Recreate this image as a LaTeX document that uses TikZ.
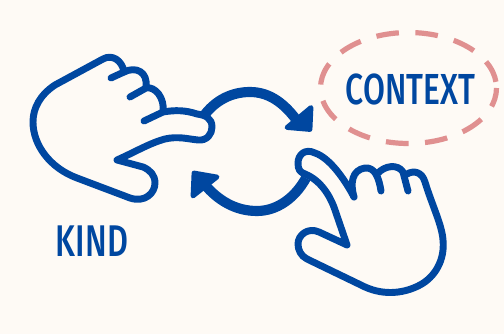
\documentclass[tikz,border=0pt]{standalone}
\usepackage{fontspec}
\setmainfont{Fira Sans}[UprightFont=* Medium]
\usetikzlibrary{arrows.meta}
\definecolor{bgc}{HTML}{FEFAF5}
\definecolor{handblue}{HTML}{0047A0}
\definecolor{rimpink}{HTML}{E09090}
\tikzset{
  handline/.style={draw=handblue,line width=5.2pt,line cap=round,line join=round},
  arcline/.style={draw=handblue,line width=7.6pt,line cap=butt},
  headfill/.style={fill=handblue,draw=handblue,line width=3.6pt,line join=round},
  rim/.style={draw=rimpink,line width=3.9pt,dash pattern=on 17pt off 12.4pt,dash phase=32pt},
  lab/.style={text=handblue,inner sep=0pt}
}
\begin{document}
\begin{tikzpicture}[x=.75pt,y=-.75pt]
\useasboundingbox[fill=bgc] (0,0) rectangle (504,334);
% dashed ellipse
\draw[rim] (408.5,88) ellipse [x radius=88,y radius=55.5];
\node[lab] (context) at (410.5,89) {\resizebox{97pt}{23pt}{CONTEXT}};
\node[lab] (kind) at (92,241) {\resizebox{54pt}{23pt}{KIND}};
% arrows
\draw[arcline] (203,117) .. controls (215,100) and (232,92) .. (250,92) .. controls (270,92) and (285,104) .. (298,122);
\path[headfill] (311,107.5) -- (310,129.5) -- (287,127.5) -- cycle;
\draw[arcline] (306,178) .. controls (295,198) and (277,211) .. (257,211) .. controls (235,211) and (218,200) .. (205,185);
\path[headfill] (194,173) -- (217,177) -- (193,196) -- cycle;
% left hand
\draw[handline] (124,72) .. controls (122,60) and (112,54) .. (103,59) -- (55,85) .. controls (40,95) and (33,108) .. (33,122) .. controls (33,145) and (50,168) .. (77,178) -- (130,198) .. controls (145,203) and (155,193) .. (155,183) .. controls (155,175) and (150,170) .. (143,167) -- (117,160) .. controls (135,152) and (150,143) .. (165,139) .. controls (178,136) and (188,139) .. (198,140) .. controls (207,141) and (212,134) .. (212,127) .. controls (212,118) and (205,115) .. (197,114) .. controls (185,110) and (175,110) .. (163,112) -- (144,121);
\draw[handline] (111,78) -- (124,72) .. controls (136,66) and (148,72) .. (146,87);
\draw[handline] (130,97) -- (146,88) .. controls (155,86) and (165,98) .. (163,112);
% right hand
\draw[handline] (354,197) .. controls (345,180) and (330,158) .. (315,153) .. controls (305,148) and (298,155) .. (298,163) .. controls (298,170) and (300,172) .. (305,174) .. controls (320,180) and (330,195) .. (335,210) -- (347,245) -- (319,232) .. controls (308,227) and (298,235) .. (298,244) .. controls (298,250) and (301,256) .. (307,259) -- (365,287) .. controls (385,296) and (405,293) .. (420,285) .. controls (435,277) and (445,260) .. (443,240) .. controls (442,225) and (432,205) .. (425,182) .. controls (422,172) and (414,170) .. (407,174);
\draw[handline] (354,197) .. controls (350,183) and (352,170) .. (365,168) .. controls (375,167) and (379,178) .. (381,191);
\draw[handline] (377,174) .. controls (385,165) and (398,164) .. (403,172) -- (408,191);
\end{tikzpicture}
\end{document}
